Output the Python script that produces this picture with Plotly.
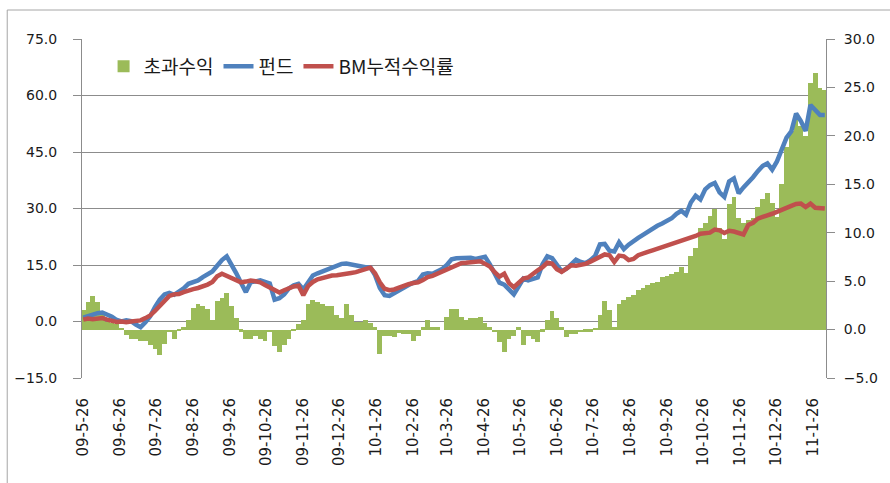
import pandas as pd
import plotly.graph_objects as go

# ---- data (one sample every 4 calendar days) ----
start_date = "2009-05-26"
n_points = 156
dates = pd.date_range(start_date, periods=n_points, freq="4D")

fund = [1.0, 1.5, 2.0, 2.2, 2.4, 2.0, 1.3, 0.4, 0.0, 0.3,
        0.1, -0.8, -1.5, -0.2, 1.4, 3.8, 5.8, 7.2, 7.6, 7.1,
        7.8, 8.8, 10.0, 10.3, 10.9, 11.8, 12.4, 13.3, 14.8, 16.3,
        17.3, 15.3, 12.8, 10.2, 7.8, 10.4, 10.8, 10.9, 10.5, 10.1,
        5.8, 6.2, 7.2, 8.8, 9.6, 10.0, 8.5, 10.5, 12.2, 12.8,
        13.3, 13.8, 14.5, 15.0, 15.3, 15.4, 15.1, 14.8, 14.6, 14.4,
        14.4, 12.3, 8.9, 7.0, 6.8, 7.6, 8.4, 9.0, 9.7, 10.3,
        10.8, 12.5, 12.8, 12.7, 13.2, 13.9, 15.0, 16.5, 16.8, 16.8,
        17.0, 16.9, 16.6, 17.0, 17.2, 15.2, 12.8, 10.3, 9.8, 8.5,
        7.2, 9.3, 11.4, 10.9, 11.4, 11.7, 15.2, 17.3, 16.8, 14.8,
        13.3, 14.0, 15.4, 16.4, 15.8, 15.5, 16.3, 17.4, 20.5, 20.6,
        18.8, 18.6, 21.0, 19.2, 20.4, 21.4, 22.2, 23.0, 23.9, 24.7,
        25.4, 26.0, 26.7, 27.4, 28.6, 29.4, 28.4, 31.6, 33.4, 32.4,
        35.1, 36.2, 36.8, 34.3, 33.1, 37.2, 38.0, 34.0, 35.6, 36.8,
        38.3, 39.9, 41.3, 42.0, 40.3, 42.5, 45.9, 48.8, 50.5, 55.2,
        53.2, 50.6, 57.5, 56.0, 54.8, 54.8]

bm = [0.5, 0.8, 0.6, 0.8, 0.9, 0.5, 0.2, -0.1, 0.0, -0.2,
      0.0, 0.1, 0.3, 0.9, 1.6, 2.8, 4.1, 5.5, 6.8, 7.2,
      7.3, 7.8, 8.3, 8.6, 8.9, 9.3, 9.8, 10.5, 12.0, 12.7,
      12.1, 11.6, 10.9, 10.4, 10.6, 10.9, 10.7, 10.4, 9.7, 9.0,
      8.3, 7.7, 8.3, 8.9, 9.3, 9.5, 7.0, 9.4, 10.5, 11.2,
      11.6, 12.0, 12.2, 12.3, 12.6, 12.8, 12.9, 13.1, 13.4, 13.7,
      14.3, 12.8, 10.4, 8.7, 8.3, 8.5, 9.0, 9.6, 9.9, 10.2,
      10.4, 11.0, 11.8, 12.1, 12.7, 13.4, 13.9, 14.3, 15.0, 15.5,
      15.6, 15.8, 16.1, 16.0, 15.3, 14.6, 13.1, 11.9, 12.7, 10.2,
      9.1, 10.2, 11.4, 11.7, 12.8, 13.6, 14.4, 15.6, 15.4, 13.9,
      13.2, 13.9, 14.9, 14.8, 15.0, 15.3, 15.9, 16.6, 17.2, 17.8,
      17.6, 15.8, 17.5, 17.3, 16.3, 16.6, 17.6, 18.2, 18.5, 18.9,
      19.3, 19.7, 20.2, 20.7, 21.1, 21.5, 21.9, 22.0, 22.7, 23.3,
      23.4, 23.6, 24.4, 24.2, 23.5, 24.1, 23.9, 23.4, 23.1, 25.6,
      26.2, 27.3, 27.9, 28.2, 28.6, 29.2, 29.8, 30.3, 30.7, 31.2,
      31.3, 30.4, 31.3, 30.2, 30.0, 30.0]

excess = [2.0, 2.8, 3.5, 2.8, 1.8, 0.8, 0.7, 0.6, 0.1, -0.6,
          -1.0, -1.0, -1.2, -1.2, -1.6, -2.0, -2.6, -1.5, -0.3, -1.0,
          -0.1, 0.3, 1.0, 2.2, 2.6, 2.4, 2.1, 1.0, 2.9, 3.3,
          3.8, 2.4, 1.2, -0.2, -1.0, -1.0, -0.7, -1.0, -1.2, -0.3,
          -1.7, -2.3, -1.6, -1.0, -0.1, 0.6, 1.0, 2.6, 3.1, 2.8,
          2.6, 2.4, 2.4, 1.5, 1.2, 2.6, 1.5, 0.8, 0.8, 1.0,
          0.7, 0.3, -2.5, -0.7, -0.7, -0.8, -0.4, -0.5, -0.5, -1.2,
          -0.7, 0.3, 1.0, 0.3, 0.3, 0.0, 1.3, 2.1, 2.1, 1.3,
          1.0, 1.2, 1.2, 1.3, 0.7, 0.3, -0.3, -1.3, -2.3, -1.0,
          -0.7, 0.3, -1.6, -0.7, -1.0, -1.3, -0.2, 1.0, 1.9, 1.2,
          0.3, -0.8, -0.5, -0.5, -0.3, -0.2, -0.2, 0.2, 1.5, 3.0,
          2.0, 0.3, 2.6, 3.1, 3.4, 3.6, 4.1, 4.3, 4.6, 4.8,
          4.9, 5.4, 5.5, 5.7, 5.9, 6.5, 5.8, 7.6, 8.4, 10.5,
          11.0, 11.7, 12.5, 10.5, 9.3, 13.0, 13.7, 11.5, 11.0, 11.3,
          11.5, 12.7, 13.5, 14.1, 13.1, 11.6, 15.0, 18.8, 20.5, 22.0,
          21.0, 20.0, 25.5, 26.5, 24.9, 24.7]

x_labels = ["09-5-26", "09-6-26", "09-7-26", "09-8-26", "09-9-26", "09-10-26",
            "09-11-26", "09-12-26", "10-1-26", "10-2-26", "10-3-26", "10-4-26",
            "10-5-26", "10-6-26", "10-7-26", "10-8-26", "10-9-26", "10-10-26",
            "10-11-26", "10-12-26", "11-1-26"]
left_ticks = [-15, 0, 15, 30, 45, 60, 75]
right_ticks = [-5, 0, 5, 10, 15, 20, 25, 30]

series_names = ["초과수익", "펀드", "BM누적수익률"]

# ---- styles ----
GREEN = "#9BBB59"
BLUE = "#4F81BD"
RED = "#C0504D"
GRID = "#8C8C8C"
TXT = "#1a1a1a"

tickvals = ["20{:02d}-{:02d}-{:02d}".format(*[int(p) for p in s.split("-")]) for s in x_labels]

fig = go.Figure()
# bars on the primary axis (drawn below), lines on the overlaying axis (drawn above)
fig.add_trace(go.Bar(x=dates, y=excess, name=series_names[0], yaxis="y",
                     marker=dict(color=GREEN, line=dict(width=0))))
fig.add_trace(go.Scatter(x=dates, y=fund, name=series_names[1], yaxis="y2",
                         mode="lines", line=dict(color=BLUE, width=4.5)))
fig.add_trace(go.Scatter(x=dates, y=bm, name=series_names[2], yaxis="y2",
                         mode="lines", line=dict(color=RED, width=4.5)))

tick_font = dict(family="DejaVu Sans", size=14, color=TXT)

fig.update_layout(
    width=890, height=483, autosize=False,
    margin=dict(l=82, r=62, t=39, b=105, pad=0),
    paper_bgcolor="white", plot_bgcolor="white",
    bargap=0,
    showlegend=True,
    legend=dict(orientation="h", x=0.029, y=0.975, xanchor="left", yanchor="top",
                bgcolor="rgba(0,0,0,0)",
                font=dict(family="Noto Sans CJK KR", size=19, color=TXT),
                traceorder="normal", itemwidth=30),
    xaxis=dict(type="date", range=["2009-05-25", "2011-02-06"],
               tickmode="array", tickvals=tickvals, ticktext=x_labels,
               tickangle=-90, tickfont=dict(family="DejaVu Sans", size=15, color=TXT),
               showgrid=False, zeroline=False, showline=False, ticks="",
               ticklabelstandoff=16),
    yaxis=dict(side="right", range=[-5, 30], tickmode="array", tickvals=right_ticks,
               tickformat=".1f", tickfont=tick_font, showgrid=False, zeroline=False,
               showline=True, linecolor=GRID, linewidth=1,
               ticks="outside", ticklen=8, tickcolor=GRID, ticklabelstandoff=6),
    yaxis2=dict(side="left", overlaying="y", range=[-15, 75], tickmode="array",
                tickvals=left_ticks, tickformat=".1f", tickfont=tick_font,
                showgrid=True, gridcolor=GRID, gridwidth=1, zeroline=False,
                showline=True, linecolor=GRID, linewidth=1,
                ticks="outside", ticklen=8, tickcolor=GRID, ticklabelstandoff=13),
)

# chart-area frame (left and top edges visible in the reference)
fig.add_shape(type="line", xref="paper", yref="paper", x0=-0.1005, x1=1.2, y0=1.0855, y1=1.0855,
              line=dict(color="#A6A6A6", width=1))
fig.add_shape(type="line", xref="paper", yref="paper", x0=-0.1005, x1=-0.1005, y0=1.0855, y1=-0.4,
              line=dict(color="#A6A6A6", width=1))

fig.write_html("out.html", config={"displayModeBar": False},
               post_script="document.body.style.margin='0';")
